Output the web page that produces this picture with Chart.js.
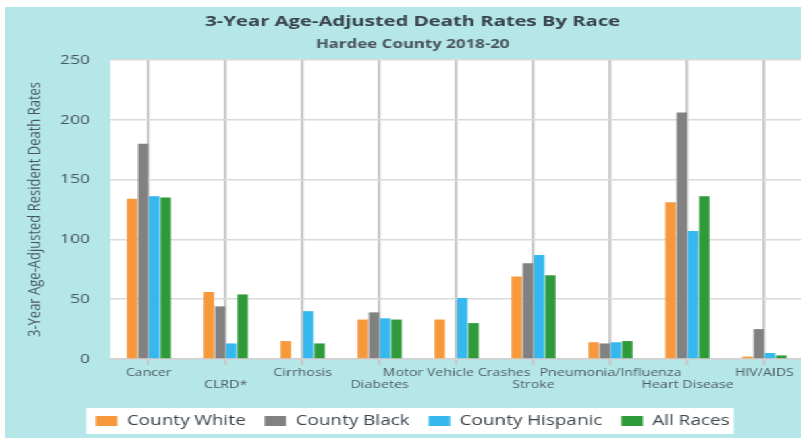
<!DOCTYPE html>
<html>
<head>
<meta charset="utf-8">
<script src="https://cdn.jsdelivr.net/npm/chart.js@4.4.1/dist/chart.umd.min.js"></script>
<style>
  html, body { margin: 0; padding: 0; background: #ffffff; overflow: hidden; }
  #wrap {
    position: absolute; left: 5px; top: 7px;
    width: 593px; height: 431px;
    background: #b5e7e9;
    transform: scaleX(1.35); transform-origin: 0 0;
  }
</style>
</head>
<body>
<div id="wrap"><canvas id="rateChart"></canvas></div>
<script>
// Causes of death along the x axis (every second one sits on a lower row)
const causes = [
    ['Cancer'], ['', 'CLRD*'], ['Cirrhosis'], ['', 'Diabetes'],
    ['Motor Vehicle Crashes'], ['', 'Stroke'], ['Pneumonia/Influenza'],
    ['', 'Heart Disease'], ['HIV/AIDS']
];

// Age-adjusted death rates per 100,000, 2018-20
const countyWhite    = [134, 56, 15, 33, 33, 69, 14, 131, 2];
const countyBlack    = [180, 44, null, 39, null, 80, 13, 206, 25];
const countyHispanic = [136, 13, 40, 34, 51, 87, 14, 107, 5];
const allRaces       = [135, 54, 13, 33, 30, 70, 15, 136, 3];

const yTicks = [0, 50, 100, 150, 200, 250];

const textFont = "'Open Sans', 'Noto Sans', sans-serif";

// White plot area and white box behind the legend
const panels = {
    id: 'panels',
    beforeDraw(chart) {
        const ctx = chart.ctx;
        const a = chart.chartArea;
        ctx.save();
        ctx.fillStyle = '#ffffff';
        ctx.fillRect(a.left, a.top, a.right - a.left, a.bottom - a.top);
        const boxes = chart.legend.legendHitBoxes;
        if (boxes && boxes.length) {
            const first = boxes[0];
            const last = boxes[boxes.length - 1];
            const cy = first.top + first.height / 2;
            ctx.fillRect(first.left - 7, cy - 13, last.left + last.width - first.left + 10, 26);
        }
        ctx.restore();
    }
};

const ctx = document.getElementById('rateChart').getContext('2d');
const rateChart = new Chart(ctx, {
    type: 'bar',
    data: {
        labels: causes,
        datasets: [
            { label: 'County White', data: countyWhite, backgroundColor: '#f7983a' },
            { label: 'County Black', data: countyBlack, backgroundColor: '#818181' },
            { label: 'County Hispanic', data: countyHispanic, backgroundColor: '#35b8ee' },
            { label: 'All Races', data: allRaces, backgroundColor: '#2f9a3a' }
        ]
    },
    options: {
        responsive: true,
        maintainAspectRatio: false,
        animation: false,
        layout: { padding: { left: 13, right: 2, top: 0, bottom: 0 } },
        datasets: {
            bar: { categoryPercentage: 0.585, barPercentage: 0.92 }
        },
        plugins: {
            title: {
                display: true,
                text: '3-Year Age-Adjusted Death Rates By Race',
                color: '#38424a',
                font: { family: textFont, size: 15, weight: 'bold' },
                padding: { top: 6, bottom: 2 }
            },
            subtitle: {
                display: true,
                text: 'Hardee County 2018-20',
                color: '#4a545c',
                font: { family: textFont, size: 12.5, weight: 'bold' },
                padding: { top: 3.5, bottom: 8.5 }
            },
            legend: {
                position: 'bottom',
                labels: {
                    boxWidth: 16,
                    boxHeight: 10,
                    padding: 14,
                    color: '#3d464d',
                    font: { family: textFont, size: 14 }
                }
            },
            tooltip: { enabled: false }
        },
        scales: {
            x: {
                grid: {
                    offset: false,
                    color: '#c9c9c9',
                    lineWidth: 2.2,
                    tickLength: 6,
                    tickColor: '#c9c9c9'
                },
                border: { color: '#d0d0d0', width: 1.5 },
                ticks: {
                    autoSkip: false,
                    maxRotation: 0,
                    minRotation: 0,
                    padding: 2,
                    color: '#4f5a63',
                    font: { family: textFont, size: 10.5, lineHeight: 1.15 }
                },
                afterFit(scale) { scale.height = 41; }
            },
            y: {
                min: 0,
                max: 250,
                afterBuildTicks(scale) { scale.ticks = yTicks.map(v => ({ value: v })); },
                grid: { color: '#dadada', lineWidth: 1.5, drawTicks: false },
                border: { display: false },
                ticks: {
                    padding: 15,
                    color: '#4a565f',
                    font: { family: textFont, size: 13 }
                },
                title: {
                    display: true,
                    text: '3-Year Age-Adjusted Resident Death Rates',
                    color: '#4a565f',
                    font: { family: textFont, size: 13 },
                    padding: { top: 1.5, bottom: 0 }
                },
                afterFit(scale) { scale.width = 65; }
            }
        }
    },
    plugins: [panels]
});
</script>
</body>
</html>
